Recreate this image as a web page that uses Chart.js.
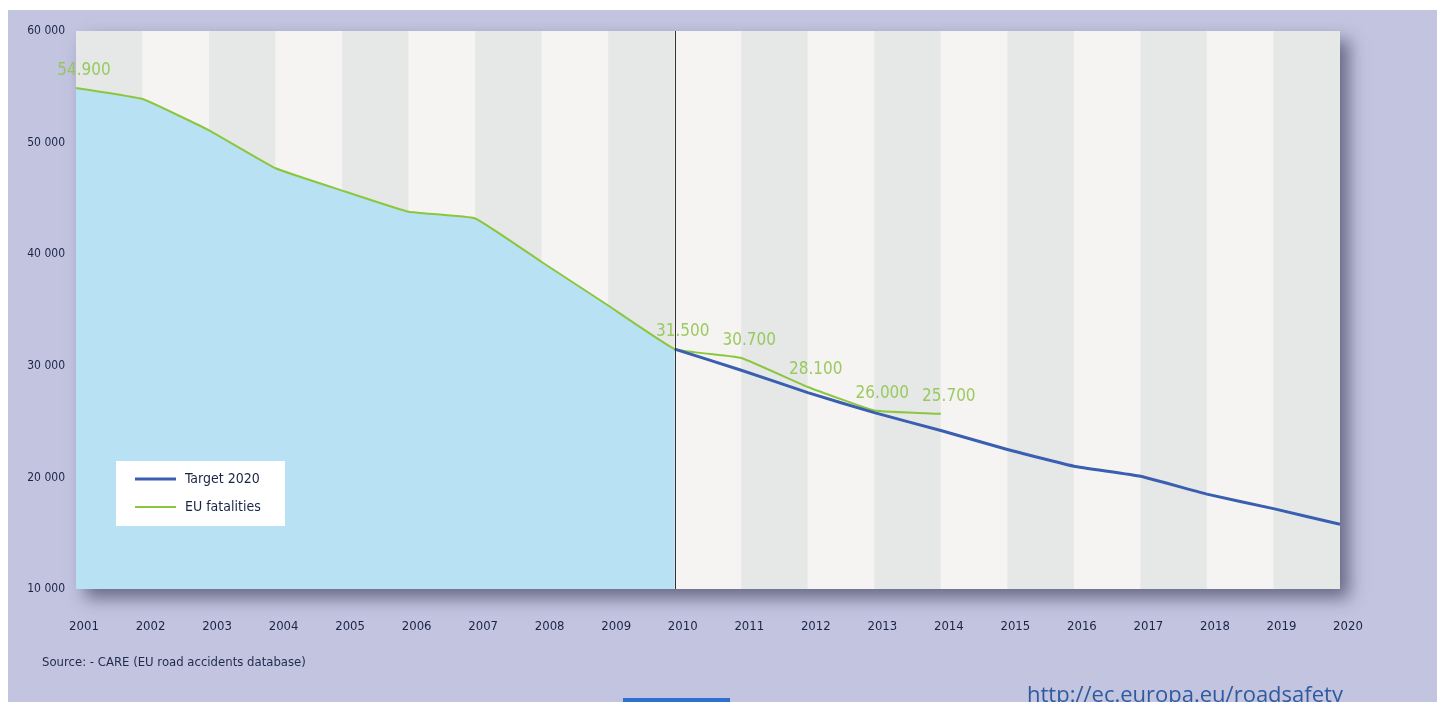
<!DOCTYPE html>
<html>
<head>
<meta charset="utf-8">
<script src="https://cdn.jsdelivr.net/npm/chart.js@4"></script>
<style>
  body { margin: 0; background: #fff; width: 1437px; height: 702px; overflow: hidden; position: relative; }
  #bg { position: absolute; left: 8px; top: 10px; width: 1429px; height: 692px; background: #c3c4e0; }
  #box { position: absolute; left: 0; top: 0; width: 1437px; height: 702px; }
  #source { position: absolute; left: 42px; top: 654px; font: 13px 'Liberation Sans Narrow', 'DejaVu Sans Condensed', sans-serif; color: #1f2b4c; }
  #url { position: absolute; left: 1027px; top: 678px; font: 22px 'Open Sans', 'DejaVu Sans', sans-serif; color: #2f5b9e; }
  #tab { position: absolute; left: 623px; top: 698px; width: 107px; height: 6px; background: #2f6fd0; }
</style>
</head>
<body>
<div id="bg"></div>
<div id="box"><canvas id="roadChart"></canvas></div>
<div id="source">Source: - CARE (EU road accidents database)</div>
<div id="url">http://ec.europa.eu/roadsafety</div>
<div id="tab"></div>
<script>
// Data
const years = [2001, 2002, 2003, 2004, 2005, 2006, 2007, 2008, 2009, 2010,
  2011, 2012, 2013, 2014, 2015, 2016, 2017, 2018, 2019, 2020];
const fatalities = [54900, 53900, 51100, 47700, 45700, 43800, 43200, 39300, 35400, 31500,
  30700, 28100, 26000, 25700];
const target = [null, null, null, null, null, null, null, null, null, 31500,
  29600, 27600, 25800, 24200, 22500, 21000, 20100, 18500, 17200, 15800];
const labeledYears = [2001, 2010, 2011, 2012, 2013, 2014];
const yTicks = [10000, 20000, 30000, 40000, 50000, 60000];
const splitYear = 2010;

const narrow = "'Liberation Sans Narrow', 'DejaVu Sans Condensed', sans-serif";

function spaced(v) {
  return String(v).replace(/\B(?=(\d{3})+(?!\d))/g, ' ');
}
function dotted(v) {
  return String(v).replace(/\B(?=(\d{3})+(?!\d))/g, '.');
}

// striped plot background with drop shadow
const bandsPlugin = {
  id: 'bands',
  beforeDatasetsDraw(chart) {
    const { ctx, chartArea: a, scales: { x } } = chart;
    ctx.save();
    ctx.shadowColor = 'rgba(45, 45, 75, 0.6)';
    ctx.shadowBlur = 16;
    ctx.shadowOffsetX = 9;
    ctx.shadowOffsetY = 9;
    ctx.fillStyle = '#f5f3f2';
    ctx.fillRect(a.left, a.top, a.width, a.height);
    ctx.restore();
    ctx.save();
    for (let i = 0; i < years.length - 1; i++) {
      const x0 = x.getPixelForValue(i);
      const x1 = x.getPixelForValue(i + 1);
      ctx.fillStyle = i % 2 === 0 ? '#e5e8e6' : '#f6f4f3';
      ctx.fillRect(x0, a.top, x1 - x0, a.height);
    }
    ctx.restore();
  }
};

// divider line, value labels and legend box
const overlayPlugin = {
  id: 'overlay',
  afterDatasetsDraw(chart) {
    const { ctx, chartArea: a, scales: { x, y } } = chart;
    ctx.save();
    const sx = Math.round(x.getPixelForValue(years.indexOf(splitYear))) + 0.5;
    ctx.strokeStyle = '#333';
    ctx.lineWidth = 1;
    ctx.beginPath();
    ctx.moveTo(sx, a.top);
    ctx.lineTo(sx, a.bottom);
    ctx.stroke();

    ctx.font = '17px ' + narrow;
    ctx.fillStyle = 'rgba(145, 197, 80, 0.9)';
    ctx.textAlign = 'center';
    ctx.textBaseline = 'middle';
    labeledYears.forEach(yr => {
      const i = years.indexOf(yr);
      const v = fatalities[i];
      ctx.fillText(dotted(v), x.getPixelForValue(i) + 8, y.getPixelForValue(v) - 17);
    });

    // legend
    const lx = a.left + 40, ly = a.bottom - 128;
    ctx.fillStyle = '#ffffff';
    ctx.fillRect(lx, ly, 169, 65);
    const items = chart.data.datasets.filter(d => d.inLegend);
    items.forEach((d, k) => {
      const yy = ly + 18 + k * 28;
      ctx.strokeStyle = d.borderColor;
      ctx.lineWidth = d.borderWidth;
      ctx.beginPath();
      ctx.moveTo(lx + 19, yy);
      ctx.lineTo(lx + 60, yy);
      ctx.stroke();
      ctx.fillStyle = '#1a2545';
      ctx.font = '14px ' + narrow;
      ctx.textAlign = 'left';
      ctx.fillText(d.label, lx + 69, yy);
    });
    ctx.restore();
  }
};

new Chart(document.getElementById('roadChart'), {
  type: 'line',
  data: {
    labels: years,
    datasets: [
      {
        label: 'Target 2020',
        inLegend: true,
        data: target,
        borderColor: '#3a5fb0',
        borderWidth: 3,
        pointRadius: 0,
        tension: 0.1,
        fill: false
      },
      {
        label: 'EU fatalities',
        inLegend: true,
        data: fatalities,
        borderColor: '#8cc63f',
        borderWidth: 2,
        pointRadius: 0,
        tension: 0.1,
        fill: false
      },
      {
        label: 'area',
        data: fatalities.map((v, i) => years[i] <= splitYear ? v : null),
        borderWidth: 0,
        borderColor: 'rgba(0,0,0,0)',
        backgroundColor: '#b8e2f3',
        pointRadius: 0,
        tension: 0.1,
        fill: 'start'
      }
    ]
  },
  options: {
    responsive: true,
    maintainAspectRatio: false,
    animation: false,
    layout: { padding: { left: 0, right: 97, top: 31, bottom: 0 } },
    plugins: {
      legend: { display: false },
      tooltip: { enabled: false }
    },
    scales: {
      x: {
        type: 'category',
        offset: false,
        grid: { display: false, drawTicks: false },
        border: { display: false },
        afterFit: scale => { scale.height = 113; },
        ticks: {
          color: '#1a2545',
          font: { family: narrow, size: 13 },
          padding: 30,
          labelOffset: 8,
          maxRotation: 0,
          autoSkip: false
        }
      },
      y: {
        min: 10000,
        max: 60000,
        afterFit: scale => { scale.width = 76; },
        afterBuildTicks: scale => { scale.ticks = yTicks.map(v => ({ value: v })); },
        grid: { display: false, drawTicks: false },
        border: { display: false },
        ticks: {
          color: '#1a2545',
          font: { family: narrow, size: 12 },
          padding: 11,
          callback: v => spaced(v)
        }
      }
    }
  },
  plugins: [bandsPlugin, overlayPlugin]
});
</script>
</body>
</html>
